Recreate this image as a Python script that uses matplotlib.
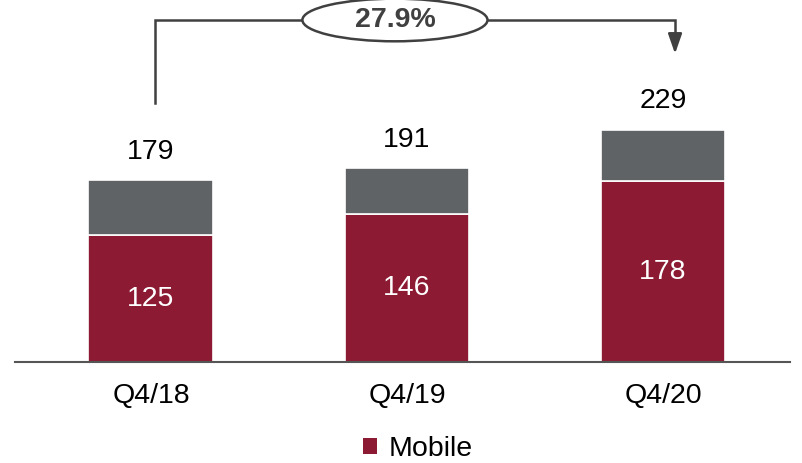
import matplotlib
matplotlib.use("Agg")
import matplotlib.pyplot as plt
from matplotlib.patches import Ellipse, Patch

categories = ["Q4/18", "Q4/19", "Q4/20"]
mobile = [125, 146, 178]
totals = [179, 191, 229]
other = [t - m for t, m in zip(totals, mobile)]
growth_label = "27.9%"

RED = "#8b1a32"
GRAY = "#5f6366"
DARK = "#404040"
FS = 20.5

plt.rcParams['font.family'] = ['Liberation Sans', 'DejaVu Sans']

fig = plt.figure(figsize=(8.02, 4.63), dpi=100)
ax = fig.add_axes([15/802, 101/463, 775/802, 362/463])

x = list(range(len(categories)))
w = 0.488
ax.bar(x, mobile, width=w, color=RED, edgecolor="white", linewidth=1.2)
ax.bar(x, other, width=w, bottom=mobile, color=GRAY, edgecolor="white", linewidth=1.2)

for xi, m, t in zip(x, mobile, totals):
    ax.text(xi, m / 2, str(m), ha="center", va="center", color="white", fontsize=FS)
    ax.text(xi, t + 15, str(t), ha="center", va="bottom", fontsize=FS, color="black")

ax.set_xlim(-0.531, 2.496)
ax.set_ylim(0, 356.7)
ax.set_xticks(x)
ax.set_xticklabels(categories, fontsize=FS)
ax.tick_params(axis="x", length=0, pad=15)
ax.set_yticks([])
for s in ["top", "right", "left"]:
    ax.spines[s].set_visible(False)
ax.spines["bottom"].set_color("#555555")
ax.spines["bottom"].set_linewidth(1.5)

# growth annotation
y_top = 337
ax.plot([0.016, 0.016, 2.047, 2.047], [255, y_top, y_top, 315], color=DARK, lw=1.8,
        clip_on=False, solid_joinstyle="miter")
ax.annotate("", xy=(2.047, 301), xytext=(2.047, 324),
            arrowprops=dict(arrowstyle="-|>,head_length=1.2,head_width=0.42", color=DARK, lw=1.8),
            annotation_clip=False)
ell = Ellipse((0.953, y_top), 0.723, 42, facecolor="white", edgecolor=DARK, lw=1.8,
              clip_on=False, zorder=5)
ax.add_patch(ell)
ax.text(0.953, y_top, growth_label, ha="center", va="center", fontsize=FS,
        fontweight="bold", color=DARK, zorder=6)

fig.legend(handles=[Patch(facecolor=RED, label="Mobile")], loc="center",
           bbox_to_anchor=(418/802, 1 - 449/463), frameon=False, fontsize=FS,
           handlelength=0.5, handleheight=0.5, handletextpad=0.4)

fig.savefig("out.png", dpi=100)
